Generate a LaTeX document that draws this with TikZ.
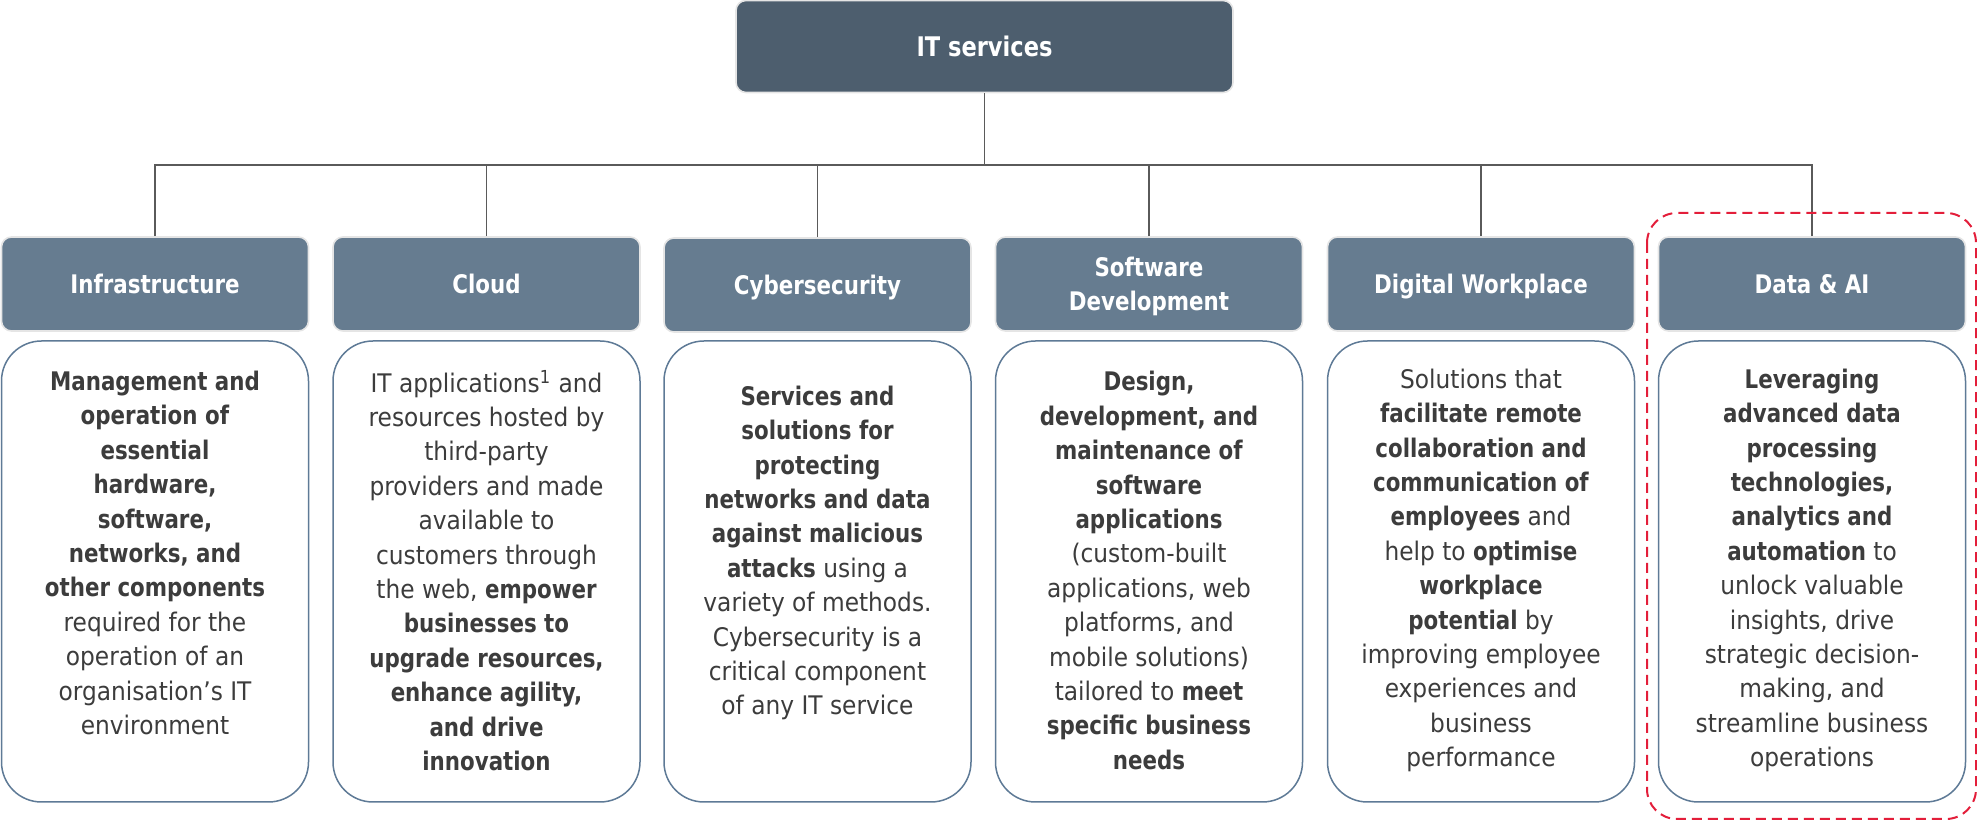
\documentclass[tikz,border=0pt]{standalone}
\usepackage{fontspec}
\setmainfont{DejaVu Sans}[UprightFeatures={FakeStretch=0.91},BoldFeatures={FakeStretch=0.835}]
\definecolor{topfill}{HTML}{4D5E6E}
\definecolor{hdrfill}{HTML}{667C90}
\definecolor{descline}{HTML}{5E7A96}
\definecolor{txtcol}{HTML}{3C3C3C}
\definecolor{conncol}{HTML}{5A5A5A}
\definecolor{focusred}{HTML}{E31E3A}
\begin{document}
\begin{tikzpicture}[x=0.5pt,y=-0.5pt,
  topbox/.style={rectangle, rounded corners=5pt, fill=topfill, draw=gray!20, line width=0.8pt, text=white,
    font=\bfseries\fontsize{13.5}{17.2}\selectfont, minimum width=248.5pt, minimum height=46pt, inner sep=0pt,
    text height=9.9pt, text depth=0pt},
  hdrbase/.style={rectangle, rounded corners=5pt, fill=hdrfill, draw=gray!20, line width=0.8pt, text=white,
    font=\bfseries\fontsize{12.8}{17.2}\selectfont, align=center, minimum width=153.5pt, minimum height=47pt, inner sep=0pt},
  hdr/.style={hdrbase, text height=9.7pt, text depth=0pt},
  hdrtwo/.style={hdrbase, text depth=0pt},
  desc/.style={rectangle, rounded corners=20pt, draw=descline, line width=0.75pt, fill=white,
    minimum width=153.5pt, minimum height=230.5pt, inner sep=0pt},
  txt/.style={align=center, text=txtcol, font=\fontsize{12.8}{17.2}\selectfont, inner sep=0pt},
  conn/.style={draw=conncol, line width=0.6pt},
  focus/.style={draw=focusred, dash pattern=on 5pt off 3pt, line width=1pt, rounded corners=15pt}]
\useasboundingbox (0,0) rectangle (1977,822);

\node[topbox] (top) at (984.5,46.5) {IT services};

\node[hdr] (h1) at (155,284) {Infrastructure};
\node[hdr] (h2) at (486.5,284) {Cloud};
\node[hdr] (h3) at (817.5,285) {Cybersecurity};
\node[hdrtwo] (h4) at (1149,284) {Software\\Development};
\node[hdr] (h5) at (1481,284) {Digital Workplace};
\node[hdr] (h6) at (1812,284) {Data \& AI};

\coordinate (bus) at (984.5,165);
\draw[conn] (top.south) -- (bus);
\foreach \i in {1,...,6} \draw[conn] (h\i.north) -- (h\i.north |- bus) -- (bus);

\node[desc] (d1) at (155,571.5) {};
\node[desc] (d2) at (486.5,571.5) {};
\node[desc] (d3) at (817.5,571.5) {};
\node[desc] (d4) at (1149,571.5) {};
\node[desc] (d5) at (1481,571.5) {};
\node[desc] (d6) at (1812,571.5) {};

\node[txt] (t1) at (155,553) {\textbf{Management and}\\\textbf{operation of}\\\textbf{essential}\\\textbf{hardware,}\\\textbf{software,}\\\textbf{networks, and}\\\textbf{other components}\\required for the\\operation of an\\organisation’s IT\\environment};
\node[txt] (t2) at (486.5,570.5) {IT applications\textsuperscript{1} and\\resources hosted by\\third-party\\providers and made\\available to\\customers through\\the web, \textbf{empower}\\\textbf{businesses to}\\\textbf{upgrade resources,}\\\textbf{enhance agility,}\\\textbf{and drive}\\\textbf{innovation}};
\node[txt] (t3) at (817.5,553) {\textbf{Services and}\\\textbf{solutions for}\\\textbf{protecting}\\\textbf{networks and data}\\\textbf{against malicious}\\\textbf{attacks} using a\\variety of methods.\\Cybersecurity is a\\critical component\\of any IT service};
\node[txt] (t4) at (1149,570.5) {\textbf{Design,}\\\textbf{development, and}\\\textbf{maintenance of}\\\textbf{software}\\\textbf{applications}\\(custom-built\\applications, web\\platforms, and\\mobile solutions)\\tailored to \textbf{meet}\\\textbf{specific business}\\\textbf{needs}};
\node[txt] (t5) at (1481,570.5) {Solutions that\\\textbf{facilitate remote}\\\textbf{collaboration and}\\\textbf{communication of}\\\textbf{employees} and\\help to \textbf{optimise}\\\textbf{workplace}\\\textbf{potential} by\\improving employee\\experiences and\\business\\performance};
\node[txt] (t6) at (1812,570.5) {\textbf{Leveraging}\\\textbf{advanced data}\\\textbf{processing}\\\textbf{technologies,}\\\textbf{analytics and}\\\textbf{automation} to\\unlock valuable\\insights, drive\\strategic decision-\\making, and\\streamline business\\operations};

\draw[focus] (1647,213) rectangle (1976,819);
\end{tikzpicture}
\end{document}
